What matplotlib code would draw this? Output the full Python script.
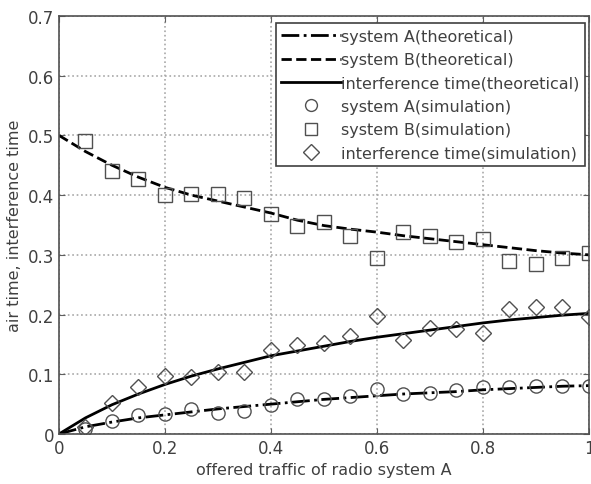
import matplotlib.pyplot as plt
import numpy as np

# offered traffic (x axis)
x_theory = [0, 0.05, 0.1, 0.15, 0.2, 0.25, 0.3, 0.35, 0.4, 0.45, 0.5,
            0.55, 0.6, 0.65, 0.7, 0.75, 0.8, 0.85, 0.9, 0.95, 1.0]
a_theory = [0, 0.012, 0.02, 0.027, 0.032, 0.037, 0.042, 0.046, 0.05, 0.054, 0.058,
            0.061, 0.064, 0.067, 0.069, 0.071, 0.074, 0.076, 0.078, 0.080, 0.081]
b_theory = [0.5, 0.473, 0.45, 0.43, 0.413, 0.40, 0.39, 0.38, 0.37, 0.358, 0.349,
            0.343, 0.338, 0.332, 0.327, 0.322, 0.317, 0.312, 0.307, 0.303, 0.300]
i_theory = [0, 0.027, 0.049, 0.067, 0.083, 0.097, 0.109, 0.12, 0.131, 0.139, 0.147,
            0.155, 0.162, 0.168, 0.174, 0.180, 0.186, 0.191, 0.195, 0.199, 0.202]

x_sim = [0.05, 0.1, 0.15, 0.2, 0.25, 0.3, 0.35, 0.4, 0.45, 0.5,
         0.55, 0.6, 0.65, 0.7, 0.75, 0.8, 0.85, 0.9, 0.95, 1.0]
a_sim = [0.008, 0.022, 0.031, 0.033, 0.042, 0.035, 0.038, 0.049, 0.059, 0.059,
         0.064, 0.075, 0.067, 0.068, 0.074, 0.078, 0.078, 0.080, 0.080, 0.080]
b_sim = [0.491, 0.441, 0.427, 0.400, 0.402, 0.402, 0.396, 0.368, 0.348, 0.355,
         0.332, 0.295, 0.338, 0.332, 0.322, 0.327, 0.290, 0.285, 0.295, 0.303]
i_sim = [0.012, 0.052, 0.078, 0.097, 0.095, 0.104, 0.104, 0.140, 0.149, 0.152,
         0.164, 0.198, 0.158, 0.177, 0.176, 0.169, 0.209, 0.212, 0.212, 0.196]

fig = plt.figure(figsize=(5.91, 4.85), dpi=100)
ax = fig.add_axes([0.0998, 0.1031, 0.8968, 0.8619])

txt = "#404040"
ax.plot(x_theory, a_theory, "k-.", lw=2, label="system A(theoretical)")
ax.plot(x_theory, b_theory, "k--", lw=2, label="system B(theoretical)")
ax.plot(x_theory, i_theory, "k-", lw=2, label="interference time(theoretical)")
mk = dict(linestyle="none", markerfacecolor="none", markeredgecolor="#505050",
          markersize=9.5, markeredgewidth=1.0)
ax.plot(x_sim, a_sim, marker="o", label="system A(simulation)", **mk)
ax.plot(x_sim, b_sim, marker="s", label="system B(simulation)", **mk)
ax.plot(x_sim, i_sim, marker="D", label="interference time(simulation)",
        **{**mk, "markersize": 8.5})

ax.set_xlim(0, 1)
ax.set_ylim(0, 0.7)
ax.set_xticks([0, 0.2, 0.4, 0.6, 0.8, 1])
ax.set_xticklabels(["0", "0.2", "0.4", "0.6", "0.8", "1"])
ax.set_yticks(np.arange(0, 0.71, 0.1))
ax.set_yticklabels(["0", "0.1", "0.2", "0.3", "0.4", "0.5", "0.6", "0.7"])
ax.tick_params(direction="in", top=True, right=True, labelsize=12,
               labelcolor=txt, color="#606060", length=4)
ax.grid(True, linestyle=":", color="#a8a8a8", lw=1.2)
for s in ax.spines.values():
    s.set_color("#505050")
    s.set_linewidth(1.2)

ax.set_xlabel("offered traffic of radio system A", fontsize=11.5, color=txt)
ax.set_ylabel("air time, interference time", fontsize=11.5, color=txt)

leg = ax.legend(loc="upper right", bbox_to_anchor=(0.993, 0.982), borderaxespad=0,
                fontsize=11.5, frameon=True, fancybox=False, framealpha=1,
                edgecolor="#404040", handlelength=3.7, handletextpad=0.05,
                labelspacing=0.52, borderpad=0.35, markerscale=0.9)
for t in leg.get_texts():
    t.set_color(txt)
leg.get_frame().set_linewidth(1.2)

fig.savefig("out.png", dpi=100)
